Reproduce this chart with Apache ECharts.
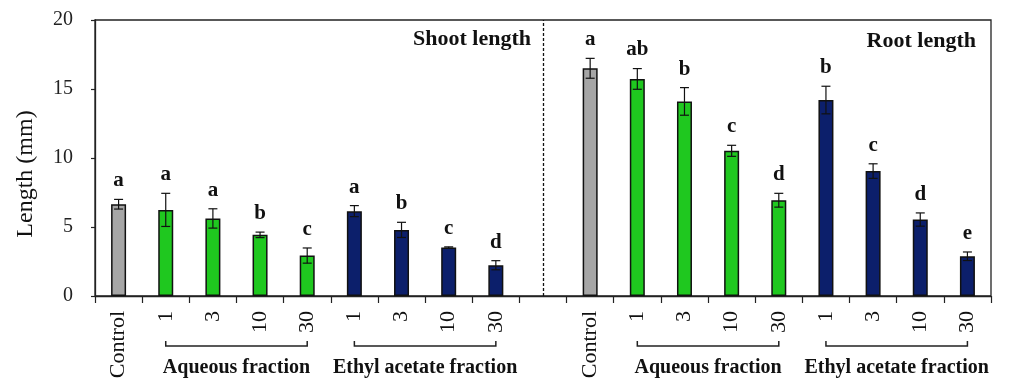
<!DOCTYPE html>
<html>
<head>
<meta charset="utf-8">
<script src="https://cdn.jsdelivr.net/npm/echarts@6/dist/echarts.min.js"></script>
<style>html,body{margin:0;padding:0;background:#fff}#c{width:1009px;height:387px}</style>
</head>
<body>
<div id="c"></div>
<script>
// ---- data ----
const categories = ['Control','1','3','10','30','1','3','10','30','','Control','1','3','10','30','1','3','10','30'];
const groups     = ['ctrl','aq','aq','aq','aq','ea','ea','ea','ea','gap','ctrl','aq','aq','aq','aq','ea','ea','ea','ea'];
const means      = [6.65,6.24,5.62,4.43,2.93,6.15,4.79,3.51,2.23,null,16.5,15.73,14.1,10.52,6.94,14.2,9.05,5.54,2.88];
const errors     = [0.35,1.2,0.7,0.2,0.55,0.4,0.55,0.05,0.33,null,0.72,0.75,1.0,0.4,0.5,1.0,0.53,0.48,0.31];
const letters    = ['a','a','a','b','c','a','b','c','d','','a','ab','b','c','d','b','c','d','e'];
const yTicks     = [0,5,10,15,20];
const brackets   = [[1,4,'Aqueous fraction'],[5,8,'Ethyl acetate fraction'],[11,14,'Aqueous fraction'],[15,18,'Ethyl acetate fraction']];
const panelTitles = ['Shoot length','Root length'];
const dividerIndex = 9;

// ---- styles ----
const colors = {ctrl:'#a6a6a6', aq:'#1fc81f', ea:'#0c1f6b', gap:'rgba(0,0,0,0)'};
const serif = '"Liberation Serif","Times New Roman",serif';

const chart = echarts.init(document.getElementById('c'), null, {renderer:'canvas'});

const barData = means.map((v,i)=>({value:v, itemStyle:{color:colors[groups[i]]}}));
const errData = means.map((v,i)=> v==null ? [i,null,null,''] : [i,v,errors[i],letters[i]]);

chart.setOption({
  animation:false,
  backgroundColor:'#fff',
  grid:{left:95,right:18,top:20,bottom:91,show:true,borderColor:'#222',borderWidth:1.3,backgroundColor:'#fff'},
  xAxis:{
    type:'category', data:categories,
    axisLine:{lineStyle:{color:'#222',width:1.3}},
    axisTick:{show:true,interval:0,length:7,lineStyle:{color:'#222',width:1.2}},
    axisLabel:{interval:0,rotate:90,margin:15,fontFamily:serif,fontSize:22,color:'#111'}
  },
  yAxis:{
    type:'value', min:yTicks[0], max:yTicks[yTicks.length-1], interval:yTicks[1]-yTicks[0],
    name:'Length (mm)', nameLocation:'middle', nameRotate:90, nameGap:57,
    nameTextStyle:{fontFamily:serif,fontSize:24,color:'#111',padding:[0,32,0,0]},
    axisLine:{show:true,lineStyle:{color:'#222',width:1.3}},
    axisTick:{show:true,length:4,lineStyle:{color:'#222',width:1.2}},
    axisLabel:{margin:22,fontFamily:serif,fontSize:20,color:'#222'},
    splitLine:{show:false}
  },
  graphic:[
    {type:'text',right:1009-531,top:28,style:{text:panelTitles[0],font:'bold 22px '+serif,fill:'#111'}},
    {type:'text',right:1009-976,top:30,style:{text:panelTitles[1],font:'bold 22px '+serif,fill:'#111'}}
  ],
  series:[
    {
      type:'bar', data:barData, barWidth:15,
      itemStyle:{borderColor:'#111',borderWidth:1.5},
      markLine:{
        silent:true, symbol:'none', label:{show:false},
        lineStyle:{color:'#111',type:[3,2],width:1.3},
        data:[{xAxis:dividerIndex}]
      }
    },
    {
      type:'custom', data:errData, encode:{x:0,y:1}, clip:false, z:5,
      renderItem:function(params, api){
        const m = api.value(1), e = api.value(2);
        if (m==null || isNaN(m)) return null;
        const x = api.value(0);
        const top = api.coord([x, m+e]);
        const bot = api.coord([x, m-e]);
        const cx = top[0], hw = 4.5;
        const ls = {stroke:'#111',lineWidth:1.2};
        return {type:'group', children:[
          {type:'line',shape:{x1:cx,y1:top[1],x2:cx,y2:bot[1]},style:ls},
          {type:'line',shape:{x1:cx-hw,y1:top[1],x2:cx+hw,y2:top[1]},style:ls},
          {type:'line',shape:{x1:cx-hw,y1:bot[1],x2:cx+hw,y2:bot[1]},style:ls},
          {type:'text',x:cx,y:top[1]-8,style:{text:letters[params.dataIndex],font:'bold 21px '+serif,fill:'#111',align:'center',verticalAlign:'bottom'}}
        ]};
      }
    },
    {
      type:'custom', data:brackets.map(b=>[b[0],0,b[1]]), encode:{x:[0,2],y:1}, clip:false, silent:true,
      renderItem:function(params, api){
        const a = api.coord([api.value(0),0]);
        const b = api.coord([api.value(2),0]);
        const y = a[1] + 50;
        return {type:'group', children:[
          {type:'polyline',shape:{points:[[a[0],y-5],[a[0],y],[b[0],y],[b[0],y-5]]},style:{stroke:'#222',lineWidth:1.5,fill:null}},
          {type:'text',x:(a[0]+b[0])/2,y:y+22,style:{text:brackets[params.dataIndex][2],font:'bold 20px '+serif,fill:'#111',align:'center',verticalAlign:'middle'}}
        ]};
      }
    }
  ]
});
</script>
</body>
</html>
